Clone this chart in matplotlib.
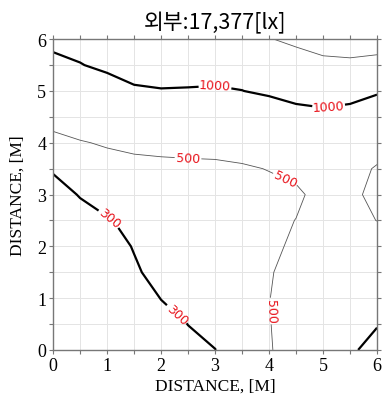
"""Illuminance contour map (outside 17,377 lx)."""

import matplotlib
matplotlib.use("Agg")
import matplotlib.pyplot as plt
import numpy as np

# grid positions [m]
x_m = [0.0, 0.5, 1.0, 1.5, 2.0, 2.5, 3.0, 3.5, 4.0, 4.5, 5.0, 5.5, 6.0]
y_m = [0.0, 0.5, 1.0, 1.5, 2.0, 2.5, 3.0, 3.5, 4.0, 4.5, 5.0, 5.5, 6.0]

# illuminance [lx], one list per column (x), values from y=0 to y=6
lux_x0_0 = [150, 160, 175, 190, 210, 235, 265, 309, 420, 602, 720, 880, 1120]
lux_x0_5 = [170, 180, 195, 215, 240, 268, 305, 390, 490, 590, 720, 980, 1180]
lux_x1_0 = [190, 205, 220, 240, 262, 285, 379, 440, 515, 600, 760, 1103, 1250]
lux_x1_5 = [220, 235, 255, 288, 305, 350, 400, 450, 539, 700, 950, 1158, 1300]
lux_x2_0 = [250, 270, 302, 330, 360, 390, 420, 460, 547, 700, 980, 1180, 1320]
lux_x2_5 = [280, 301, 330, 360, 390, 420, 445, 470, 545, 690, 970, 1184, 1330]
lux_x3_0 = [298, 340, 370, 400, 425, 450, 470, 485, 527, 680, 960, 1160, 1300]
lux_x3_5 = [360, 380, 400, 420, 440, 460, 475, 490, 540, 700, 995, 1150, 1500]
lux_x4_0 = [490, 495, 497, 485, 470, 470, 475, 503, 560, 750, 1062, 1400, 1950]
lux_x4_5 = [561, 560, 560, 570, 524, 502, 480, 530, 600, 820, 1180, 1470, 2228]
lux_x5_0 = [700, 680, 660, 640, 610, 570, 539, 580, 660, 900, 1178, 1700, 2533]
lux_x5_5 = [880, 760, 680, 620, 590, 560, 551, 580, 650, 880, 1120, 1800, 2514]
lux_x6_0 = [1280, 954, 800, 700, 620, 497, 440, 480, 605, 750, 1041, 1700, 2450]

levels = [300, 500, 1000, 2000]
label_levels = [300, 500, 1000]
label_spots = [(1.05, 2.55), (2.3, 0.7), (2.5, 3.72), (4.3, 3.3),
               (4.0, 0.75), (3.0, 5.1), (5.1, 4.72)]

title = "외부:17,377[lx]"

plt.rcParams.update({
    "figure.dpi": 100,
    "font.family": ["Liberation Serif", "DejaVu Serif"],
})


def main() -> None:
    Z = np.array([lux_x0_0, lux_x0_5, lux_x1_0, lux_x1_5, lux_x2_0, lux_x2_5,
                  lux_x3_0, lux_x3_5, lux_x4_0, lux_x4_5, lux_x5_0, lux_x5_5,
                  lux_x6_0]).T
    X, Y = np.meshgrid(x_m, y_m)

    fig = plt.figure(figsize=(3.82, 4.02))
    ax = fig.add_axes([0.139, 0.127, 0.848, 0.773])

    cs = ax.contour(X, Y, Z, levels=levels,
                    colors=["black", "#555555", "black", "#555555"],
                    linewidths=[1.6, 0.6, 1.6, 0.6])
    labels = ax.clabel(cs, levels=label_levels, manual=label_spots,
                       fmt="%d", fontsize=9, inline=True, inline_spacing=4)
    for t in labels:
        t.set_color("#e8141c")
        t.set_family("DejaVu Sans")

    ax.set_xlim(0, 6)
    ax.set_ylim(0, 6)
    ax.set_xticks(np.arange(0, 6.1, 1))
    ax.set_yticks(np.arange(0, 6.1, 1))
    ax.set_xticks(np.arange(0.5, 6, 1), minor=True)
    ax.set_yticks(np.arange(0.5, 6, 1), minor=True)
    ax.grid(True, which="both", color="#e4e4e4", linewidth=0.7)
    ax.set_axisbelow(True)
    ax.tick_params(which="both", direction="out", length=3, width=0.8,
                   color="#777777", top=True, right=True, labelsize=13, pad=2)
    for s in ax.spines.values():
        s.set_color("#777777")
        s.set_linewidth(1.0)

    ax.set_xlabel("DISTANCE, [M]", fontsize=12.5, labelpad=3)
    ax.set_ylabel("DISTANCE, [M]", fontsize=12.5, labelpad=8)
    ax.set_title(title, family=["Noto Sans CJK KR", "DejaVu Sans"],
                 fontsize=15.5, pad=8)

    fig.savefig("out.png", dpi=100)
    plt.close(fig)


if __name__ == "__main__":
    main()
